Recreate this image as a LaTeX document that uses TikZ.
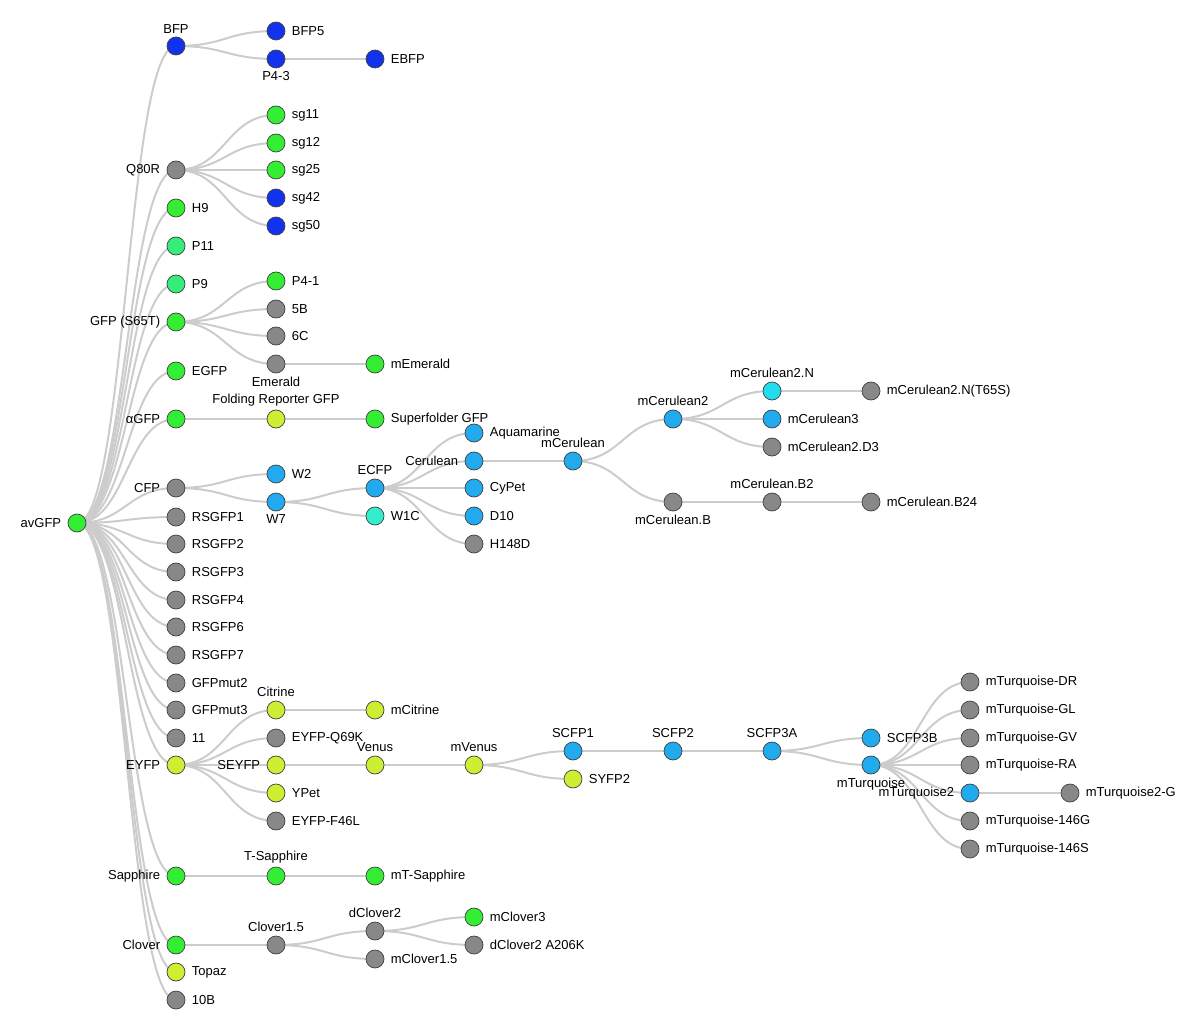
\documentclass[tikz,border=0pt]{standalone}
\usepackage{fontspec}
\setmainfont{Liberation Sans}
\usetikzlibrary{backgrounds,calc}
\definecolor{cg}{HTML}{33EE33}
\definecolor{cb}{HTML}{1133EE}
\definecolor{cl}{HTML}{33EE77}
\definecolor{cy}{HTML}{CCEE33}
\definecolor{cc}{HTML}{22AAEE}
\definecolor{cn}{HTML}{22DDEE}
\definecolor{ct}{HTML}{33EECC}
\definecolor{cx}{HTML}{888888}
\tikzset{
 nd/.style={circle,draw=black!75,line width=0.7pt,minimum size=18pt,inner sep=0pt},
 lk/.style={draw=black!20,line width=2pt},
 R/.style={label={[font=\fontsize{13pt}{15pt}\selectfont,label distance=3pt]right:#1}},
 L/.style={label={[font=\fontsize{13pt}{15pt}\selectfont,label distance=3pt]left:#1}},
 A/.style={label={[font=\fontsize{13pt}{15pt}\selectfont,label distance=0pt]above:#1}},
 B/.style={label={[font=\fontsize{13pt}{15pt}\selectfont,label distance=0pt]below:#1}},
}
\newcommand{\N}[6]{\node[nd,fill=#4,#5={#6}] (#1) at (#2,#3) {};}
\newcommand{\E}[2]{\draw[lk] let \p1=(#1), \p2=(#2) in (\p1) .. controls ({(\x1+\x2)/2},\y1) and ({(\x1+\x2)/2},\y2) .. (\p2);}
\begin{document}
\begin{tikzpicture}[x=1pt,y=-1pt]
\useasboundingbox (0,0) rectangle (1200,1027);
\N{avGFP}{77}{523}{cg}{L}{avGFP}
\N{BFP}{176}{46}{cb}{A}{BFP}
\N{Q80R}{176}{170}{cx}{L}{Q80R}
\N{H9}{176}{208}{cg}{R}{H9}
\N{P11}{176}{246}{cl}{R}{P11}
\N{P9}{176}{284}{cl}{R}{P9}
\N{S65T}{176}{322}{cg}{L}{GFP (S65T)}
\N{EGFP}{176}{371}{cg}{R}{EGFP}
\N{aGFP}{176}{419}{cg}{L}{αGFP}
\N{CFP}{176}{488}{cx}{L}{CFP}
\N{RS1}{176}{517}{cx}{R}{RSGFP1}
\N{RS2}{176}{544}{cx}{R}{RSGFP2}
\N{RS3}{176}{572}{cx}{R}{RSGFP3}
\N{RS4}{176}{600}{cx}{R}{RSGFP4}
\N{RS6}{176}{627}{cx}{R}{RSGFP6}
\N{RS7}{176}{655}{cx}{R}{RSGFP7}
\N{m2}{176}{683}{cx}{R}{GFPmut2}
\N{m3}{176}{710}{cx}{R}{GFPmut3}
\N{e11}{176}{738}{cx}{R}{11}
\N{EYFP}{176}{765}{cy}{L}{EYFP}
\N{Sap}{176}{876}{cg}{L}{Sapphire}
\N{Clo}{176}{945}{cg}{L}{Clover}
\N{Top}{176}{972}{cy}{R}{Topaz}
\N{B10}{176}{1000}{cx}{R}{10B}
\N{BFP5}{276}{31}{cb}{R}{BFP5}
\N{P43}{276}{59}{cb}{B}{P4-3}
\N{EBFP}{375}{59}{cb}{R}{EBFP}
\N{sg11}{276}{115}{cg}{R}{sg11}
\N{sg12}{276}{143}{cg}{R}{sg12}
\N{sg25}{276}{170}{cg}{R}{sg25}
\N{sg42}{276}{198}{cb}{R}{sg42}
\N{sg50}{276}{226}{cb}{R}{sg50}
\N{P41}{276}{281}{cg}{R}{P4-1}
\N{B5}{276}{309}{cx}{R}{5B}
\N{C6}{276}{336}{cx}{R}{6C}
\N{Em}{276}{364}{cx}{B}{Emerald}
\N{mEm}{375}{364}{cg}{R}{mEmerald}
\N{FR}{276}{419}{cy}{A}{Folding Reporter GFP}
\N{SF}{375}{419}{cg}{R}{Superfolder GFP}
\N{W2}{276}{474}{cc}{R}{W2}
\N{W7}{276}{502}{cc}{B}{W7}
\N{ECFP}{375}{488}{cc}{A}{ECFP}
\N{W1C}{375}{516}{ct}{R}{W1C}
\N{Aq}{474}{433}{cc}{R}{Aquamarine}
\N{Cer}{474}{461}{cc}{L}{Cerulean}
\N{Cy}{474}{488}{cc}{R}{CyPet}
\N{D10}{474}{516}{cc}{R}{D10}
\N{H148}{474}{544}{cx}{R}{H148D}
\N{mCer}{573}{461}{cc}{A}{mCerulean}
\N{mC2}{673}{419}{cc}{A}{mCerulean2}
\N{mCB}{673}{502}{cx}{B}{mCerulean.B}
\N{mC2N}{772}{391}{cn}{A}{mCerulean2.N}
\N{mC3}{772}{419}{cc}{R}{mCerulean3}
\N{mC2D}{772}{447}{cx}{R}{mCerulean2.D3}
\N{mC2NT}{871}{391}{cx}{R}{mCerulean2.N(T65S)}
\N{mCB2}{772}{502}{cx}{A}{mCerulean.B2}
\N{mCB24}{871}{502}{cx}{R}{mCerulean.B24}
\N{Cit}{276}{710}{cy}{A}{Citrine}
\N{Q69}{276}{738}{cx}{R}{EYFP-Q69K}
\N{SEY}{276}{765}{cy}{L}{SEYFP}
\N{YP}{276}{793}{cy}{R}{YPet}
\N{F46}{276}{821}{cx}{R}{EYFP-F46L}
\N{mCit}{375}{710}{cy}{R}{mCitrine}
\N{Ven}{375}{765}{cy}{A}{Venus}
\N{mVen}{474}{765}{cy}{A}{mVenus}
\N{SC1}{573}{751}{cc}{A}{SCFP1}
\N{SY2}{573}{779}{cy}{R}{SYFP2}
\N{SC2}{673}{751}{cc}{A}{SCFP2}
\N{SC3A}{772}{751}{cc}{A}{SCFP3A}
\N{SC3B}{871}{738}{cc}{R}{SCFP3B}
\N{mT}{871}{765}{cc}{B}{mTurquoise}
\N{DR}{970}{682}{cx}{R}{mTurquoise-DR}
\N{GL}{970}{710}{cx}{R}{mTurquoise-GL}
\N{GV}{970}{738}{cx}{R}{mTurquoise-GV}
\N{RA}{970}{765}{cx}{R}{mTurquoise-RA}
\N{mT2}{970}{793}{cc}{L}{mTurquoise2}
\N{G146}{970}{821}{cx}{R}{mTurquoise-146G}
\N{S146}{970}{849}{cx}{R}{mTurquoise-146S}
\N{mT2G}{1070}{793}{cx}{R}{mTurquoise2-G}
\N{TS}{276}{876}{cg}{A}{T-Sapphire}
\N{mTS}{375}{876}{cg}{R}{mT-Sapphire}
\N{C15}{276}{945}{cx}{A}{Clover1.5}
\N{dC2}{375}{931}{cx}{A}{dClover2}
\N{mC15}{375}{959}{cx}{R}{mClover1.5}
\N{mC3v}{474}{917}{cg}{R}{mClover3}
\N{dCA}{474}{945}{cx}{R}{dClover2 A206K}
\begin{scope}[on background layer]
\foreach \c in {BFP,Q80R,H9,P11,P9,S65T,EGFP,aGFP,CFP,RS1,RS2,RS3,RS4,RS6,RS7,m2,m3,e11,EYFP,Sap,Clo,Top,B10}{\E{avGFP}{\c}}
\E{BFP}{BFP5}\E{BFP}{P43}\E{P43}{EBFP}
\foreach \c in {sg11,sg12,sg25,sg42,sg50}{\E{Q80R}{\c}}
\foreach \c in {P41,B5,C6,Em}{\E{S65T}{\c}}
\E{Em}{mEm}\E{aGFP}{FR}\E{FR}{SF}
\E{CFP}{W2}\E{CFP}{W7}\E{W7}{ECFP}\E{W7}{W1C}
\foreach \c in {Aq,Cer,Cy,D10,H148}{\E{ECFP}{\c}}
\E{Cer}{mCer}\E{mCer}{mC2}\E{mCer}{mCB}
\E{mC2}{mC2N}\E{mC2}{mC3}\E{mC2}{mC2D}\E{mC2N}{mC2NT}
\E{mCB}{mCB2}\E{mCB2}{mCB24}
\foreach \c in {Cit,Q69,SEY,YP,F46}{\E{EYFP}{\c}}
\E{Cit}{mCit}\E{SEY}{Ven}\E{Ven}{mVen}\E{mVen}{SC1}\E{mVen}{SY2}
\E{SC1}{SC2}\E{SC2}{SC3A}\E{SC3A}{SC3B}\E{SC3A}{mT}
\foreach \c in {DR,GL,GV,RA,mT2,G146,S146}{\E{mT}{\c}}
\E{mT2}{mT2G}
\E{Sap}{TS}\E{TS}{mTS}
\E{Clo}{C15}\E{C15}{dC2}\E{C15}{mC15}\E{dC2}{mC3v}\E{dC2}{dCA}
\end{scope}
\end{tikzpicture}
\end{document}
